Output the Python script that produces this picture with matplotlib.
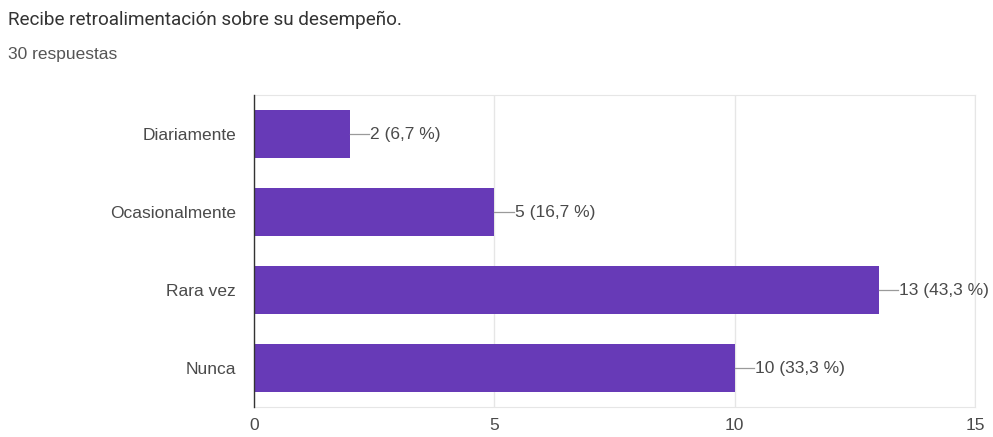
import matplotlib

matplotlib.use("Agg")
import matplotlib.pyplot as plt  # noqa: E402

plt.rcParams["font.family"] = ["Liberation Sans", "DejaVu Sans"]

TITLE = "Recibe retroalimentación sobre su desempeño."
SUBTITLE = "30 respuestas"
categories = ["Diariamente", "Ocasionalmente", "Rara vez", "Nunca"]
counts = [2, 5, 13, 10]
percents = ["6,7", "16,7", "43,3", "33,3"]
x_ticks = [0, 5, 10, 15]

BAR_COLOR = "#673ab7"
TEXT_COLOR = "#4a4a4a"

fig = plt.figure(figsize=(9.93, 4.37), dpi=100)
ax = fig.add_axes((0.2558, 0.0686, 0.7261, 0.714))

y = list(range(len(categories)))
ax.barh(y, counts, height=0.62, color=BAR_COLOR, zorder=3)

# value labels with a short connector tick
for yi, c, p in zip(y, counts, percents):
    ax.plot([c, c + 0.4], [yi, yi], color="#9a9a9a", linewidth=0.9, zorder=3)
    ax.text(c + 0.42, yi, f"{c} ({p} %)", va="center", ha="left",
            fontsize=12.5, color=TEXT_COLOR)

ax.set_xlim(0, 15)
ax.set_ylim(3.5, -0.5)
ax.set_xticks(x_ticks)
ax.set_yticks(y)
ax.set_yticklabels(categories)
ax.tick_params(axis="both", length=0, labelsize=12.5, labelcolor=TEXT_COLOR)
ax.tick_params(axis="x", pad=8)
ax.tick_params(axis="y", pad=13)
ax.grid(axis="x", color="#e6e6e6", linewidth=1.0, zorder=0)

for side in ("top", "right", "bottom"):
    ax.spines[side].set_color("#e6e6e6")
ax.spines["left"].set_color("#333333")
ax.spines["left"].set_linewidth(1.0)
ax.spines["left"].set_zorder(4)

fig.text(8 / 993, 1 - 20 / 437, TITLE, fontsize=13.6, color="#333333",
         va="center", ha="left", family=["Roboto", "DejaVu Sans"])
fig.text(8 / 993, 1 - 55 / 437, SUBTITLE, fontsize=12.5, color="#555555",
         va="center", ha="left")

fig.savefig("out.png", dpi=100)
plt.close(fig)
